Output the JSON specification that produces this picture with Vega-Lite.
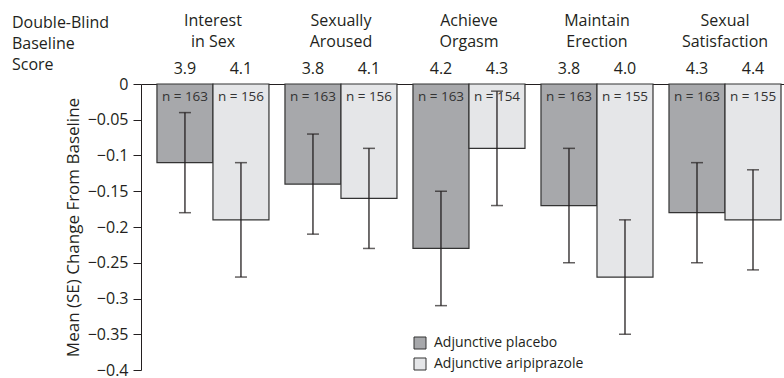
{
  "$schema": "https://vega.github.io/schema/vega-lite/v6.json",
  "width": 643,
  "height": 286,
  "autosize": "none",
  "padding": {"left": 141, "top": 84, "right": 0, "bottom": 8},
  "config": {
    "view": {"stroke": null},
    "font": "Open Sans",
    "axisY": {
      "tickCount": 8,
      "format": ".2~f",
      "labelOverlap": false,
      "tickSize": 8,
      "labelFontSize": 16,
      "labelColor": "#231f20",
      "domainColor": "#231f20",
      "tickColor": "#231f20",
      "grid": false,
      "labelPadding": 5,
      "titleFontSize": 17,
      "titleFontWeight": "normal",
      "titleColor": "#231f20",
      "titlePadding": 5
    }
  },
  "title": {
    "text": ["Double-Blind", "Baseline", "Score"],
    "anchor": "start",
    "frame": "group",
    "dx": -129,
    "dy": 64,
    "fontSize": 16,
    "fontWeight": "normal",
    "lineHeight": 21,
    "color": "#231f20",
    "offset": 4
  },
  "data": {
    "values": [
      {"measure": "Interest\nin Sex", "treatment": "Adjunctive placebo", "mean": -0.11, "lower": -0.18, "upper": -0.04, "nlabel": "n = 163", "baseline": "3.9"},
      {"measure": "Interest\nin Sex", "treatment": "Adjunctive aripiprazole", "mean": -0.19, "lower": -0.27, "upper": -0.11, "nlabel": "n = 156", "baseline": "4.1"},
      {"measure": "Sexually\nAroused", "treatment": "Adjunctive placebo", "mean": -0.14, "lower": -0.21, "upper": -0.07, "nlabel": "n = 163", "baseline": "3.8"},
      {"measure": "Sexually\nAroused", "treatment": "Adjunctive aripiprazole", "mean": -0.16, "lower": -0.23, "upper": -0.09, "nlabel": "n = 156", "baseline": "4.1"},
      {"measure": "Achieve\nOrgasm", "treatment": "Adjunctive placebo", "mean": -0.23, "lower": -0.31, "upper": -0.15, "nlabel": "n = 163", "baseline": "4.2"},
      {"measure": "Achieve\nOrgasm", "treatment": "Adjunctive aripiprazole", "mean": -0.09, "lower": -0.17, "upper": -0.01, "nlabel": "n = 154", "baseline": "4.3"},
      {"measure": "Maintain\nErection", "treatment": "Adjunctive placebo", "mean": -0.17, "lower": -0.25, "upper": -0.09, "nlabel": "n = 163", "baseline": "3.8"},
      {"measure": "Maintain\nErection", "treatment": "Adjunctive aripiprazole", "mean": -0.27, "lower": -0.35, "upper": -0.19, "nlabel": "n = 155", "baseline": "4.0"},
      {"measure": "Sexual\nSatisfaction", "treatment": "Adjunctive placebo", "mean": -0.18, "lower": -0.25, "upper": -0.11, "nlabel": "n = 163", "baseline": "4.3"},
      {"measure": "Sexual\nSatisfaction", "treatment": "Adjunctive aripiprazole", "mean": -0.19, "lower": -0.26, "upper": -0.12, "nlabel": "n = 155", "baseline": "4.4"}
    ]
  },
  "encoding": {
    "x": {
      "field": "measure",
      "type": "nominal",
      "sort": null,
      "scale": {"paddingInner": 0.125, "paddingOuter": 0.074, "align": 0.842},
      "axis": {"orient": "top", "labels": false, "ticks": false, "title": null, "domainColor": "#231f20", "domainWidth": 1}
    }
  },
  "layer": [
    {
      "mark": {"type": "bar", "stroke": "#333333", "strokeWidth": 1.2},
      "encoding": {
        "xOffset": {"field": "treatment", "type": "nominal", "sort": ["Adjunctive placebo", "Adjunctive aripiprazole"], "scale": {"paddingInner": 0, "paddingOuter": 0}},
        "y": {
          "field": "mean",
          "type": "quantitative",
          "title": "Mean (SE) Change From Baseline",
          "scale": {"domain": [-0.4, 0], "nice": false, "zero": false}
        },
        "y2": {"datum": 0},
        "color": {
          "field": "treatment",
          "type": "nominal",
          "sort": ["Adjunctive placebo", "Adjunctive aripiprazole"],
          "scale": {"domain": ["Adjunctive placebo", "Adjunctive aripiprazole"], "range": ["#a7a8ab", "#e5e6e8"]},
          "legend": {
            "orient": "none",
            "legendX": 272,
            "legendY": 252,
            "title": null,
            "symbolType": "square",
            "symbolSize": 144,
            "symbolStrokeColor": "#333333",
            "symbolStrokeWidth": 1,
            "symbolOpacity": 1,
            "labelFontSize": 14,
            "labelColor": "#231f20",
            "labelOffset": 7,
            "rowPadding": 5
          }
        }
      }
    },
    {
      "mark": {"type": "text", "fontSize": 13.5, "color": "#333333", "baseline": "middle", "dy": 13},
      "encoding": {
        "xOffset": {"field": "treatment", "type": "nominal", "sort": ["Adjunctive placebo", "Adjunctive aripiprazole"]},
        "y": {"datum": 0},
        "text": {"field": "nlabel"}
      }
    },
    {
      "mark": {"type": "text", "fontSize": 16, "color": "#231f20", "baseline": "middle", "dy": -15},
      "encoding": {
        "xOffset": {"field": "treatment", "type": "nominal", "sort": ["Adjunctive placebo", "Adjunctive aripiprazole"]},
        "y": {"datum": 0},
        "text": {"field": "baseline"}
      }
    },
    {
      "transform": [{"filter": "datum.treatment == 'Adjunctive placebo'"}],
      "mark": {"type": "text", "fontSize": 16, "color": "#231f20", "baseline": "alphabetic", "lineBreak": "\n", "lineHeight": 21, "dy": -58},
      "encoding": {
        "y": {"datum": 0},
        "text": {"field": "measure"}
      }
    },
    {
      "mark": {"type": "rule", "color": "#231f20", "strokeWidth": 1.3},
      "encoding": {
        "xOffset": {"field": "treatment", "type": "nominal", "sort": ["Adjunctive placebo", "Adjunctive aripiprazole"]},
        "y": {"field": "lower", "type": "quantitative", "title": "Mean (SE) Change From Baseline"},
        "y2": {"field": "upper"}
      }
    },
    {
      "mark": {"type": "tick", "color": "#231f20", "size": 12, "thickness": 1.5, "orient": "horizontal"},
      "encoding": {
        "xOffset": {"field": "treatment", "type": "nominal", "sort": ["Adjunctive placebo", "Adjunctive aripiprazole"]},
        "y": {"field": "lower", "type": "quantitative", "title": "Mean (SE) Change From Baseline"}
      }
    },
    {
      "mark": {"type": "tick", "color": "#231f20", "size": 12, "thickness": 1.5, "orient": "horizontal"},
      "encoding": {
        "xOffset": {"field": "treatment", "type": "nominal", "sort": ["Adjunctive placebo", "Adjunctive aripiprazole"]},
        "y": {"field": "upper", "type": "quantitative", "title": "Mean (SE) Change From Baseline"}
      }
    }
  ]
}
